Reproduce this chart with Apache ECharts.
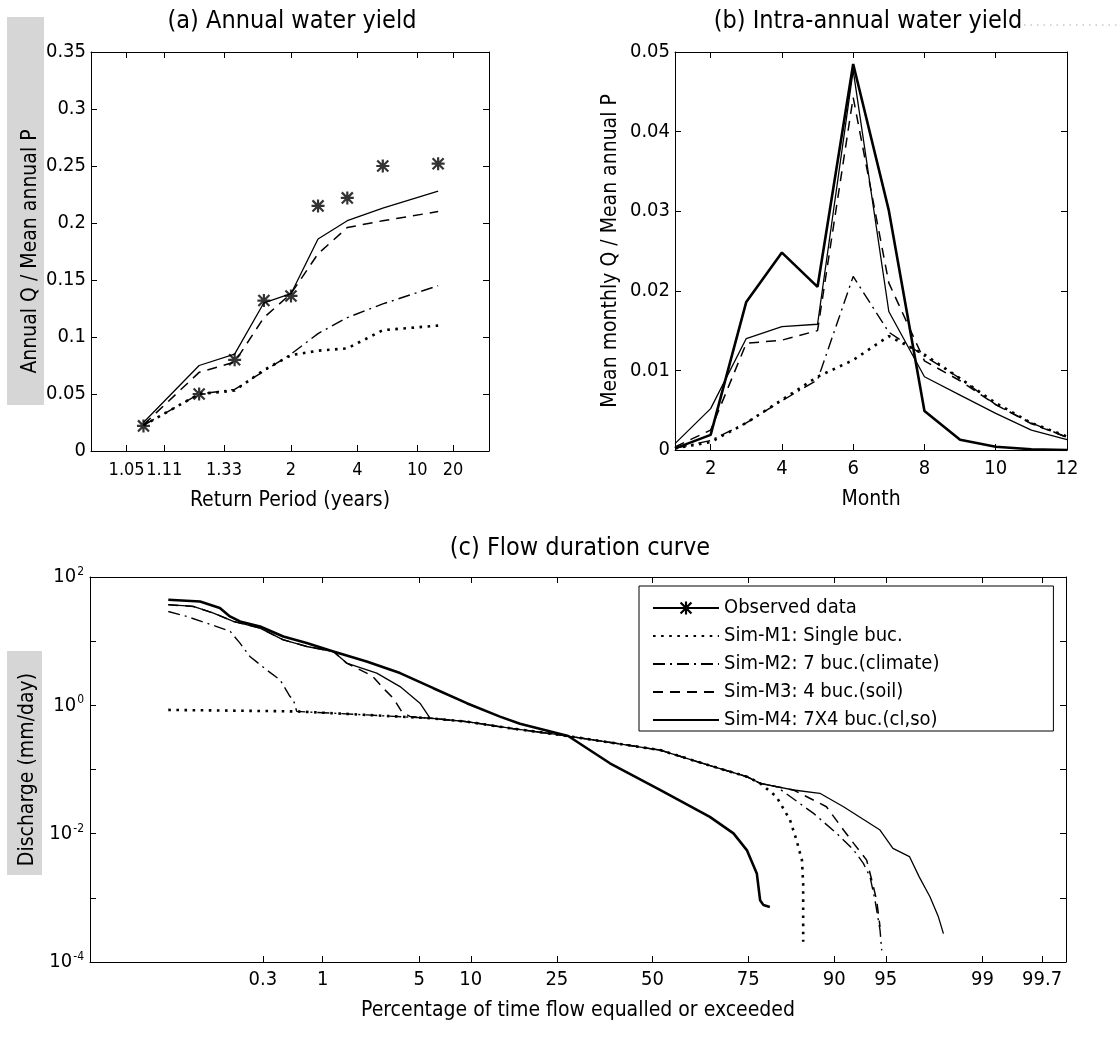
<!DOCTYPE html>
<html><head><meta charset="utf-8">
<script src="https://cdn.jsdelivr.net/npm/echarts@6/dist/echarts.min.js"></script>
<style>html,body{margin:0;padding:0;background:#fff}#c{width:1120px;height:1041px}</style>
</head><body><div id="c"></div>
<script>
// ---------------- DATA ----------------
const seriesNames = ['Observed data', 'Sim-M1: Single buc.', 'Sim-M2: 7 buc.(climate)', 'Sim-M3: 4 buc.(soil)', 'Sim-M4: 7X4 buc.(cl,so)'];

// (a) annual water yield vs return period (years)
const returnPeriods = [1.072, 1.213, 1.396, 1.644, 2.0, 2.552, 3.524, 5.691, 14.79];
const annualObserved = [0.022, 0.050, 0.080, 0.132, 0.136, 0.215, 0.222, 0.250, 0.252];
const annualM1 = [0.0225, 0.050, 0.053, 0.071, 0.084, 0.088, 0.090, 0.106, 0.110];
const annualM2 = [0.0225, 0.050, 0.054, 0.070, 0.085, 0.103, 0.117, 0.129, 0.145];
const annualM3 = [0.023, 0.069, 0.078, 0.117, 0.138, 0.173, 0.196, 0.202, 0.210];
const annualM4 = [0.025, 0.075, 0.085, 0.130, 0.138, 0.186, 0.202, 0.213, 0.228];
const returnTicks = [1.05, 1.11, 1.33, 2, 4, 10, 20];
const returnTickLabels = ['1.05', '1.11', '1.33', '2', '4', '10', '20'];

// (b) intra-annual water yield
const months = [1, 2, 3, 4, 5, 6, 7, 8, 9, 10, 11, 12];
const monthlyObserved = [0.0002, 0.0019, 0.0186, 0.0248, 0.0205, 0.0485, 0.0301, 0.0049, 0.0013, 0.0004, 0.0001, 0.0000];
const monthlyM1 = [0.0002, 0.0010, 0.0034, 0.0063, 0.0092, 0.0113, 0.0143, 0.0120, 0.0090, 0.0059, 0.0034, 0.0017];
const monthlyM2 = [0.0002, 0.0012, 0.0034, 0.0062, 0.0088, 0.0218, 0.0148, 0.0118, 0.0090, 0.0057, 0.0034, 0.0016];
const monthlyM3 = [0.0004, 0.0025, 0.0134, 0.0138, 0.0150, 0.0443, 0.0210, 0.0112, 0.0087, 0.0057, 0.0033, 0.0016];
const monthlyM4 = [0.0008, 0.0052, 0.0140, 0.0155, 0.0158, 0.0477, 0.0174, 0.0092, 0.0069, 0.0046, 0.0025, 0.0013];
const monthTicks = [2, 4, 6, 8, 10, 12];

// (c) flow duration curve: [percentage of time exceeded, discharge mm/day]
const fdcObserved = [[0.0319,44.2],[0.0709,41.6],[0.114,32.8],[0.144,24.3],[0.181,20.3],[0.282,16.9],[0.461,11.8],[0.736,9.33],[1.22,6.9],[2.19,4.82],[3.75,3.18],[6.11,1.85],[9.51,1.08],[14.1,0.667],[17.5,0.515],[27.6,0.333],[38.2,0.125],[52.1,0.0482],[65.7,0.0183],[71.6,0.0101],[74.7,0.00555],[76.9,0.0024],[77.6,0.00092],[78.3,0.00077],[79.6,0.00072]];
const fdcM1 = [[0.0319,0.849],[0.605,0.804],[2.19,0.709],[5.79,0.631],[9.5,0.557],[15.7,0.44],[25.7,0.346],[33.8,0.289],[52.1,0.201],[66.6,0.111],[74.7,0.0773],[77.6,0.061],[80.9,0.0377],[83.4,0.0163],[84.5,0.00794],[85.4,0.00387],[85.6,0.00167],[85.6,0.000505],[85.6,0.000206]];
const fdcM2 = [[0.0319,29.0],[0.051,24.3],[0.106,16.9],[0.145,14.2],[0.181,9.33],[0.226,5.77],[0.325,3.57],[0.431,2.49],[0.529,1.37],[0.566,1.22],[0.605,0.804],[2.19,0.709],[5.79,0.631],[9.5,0.557],[15.7,0.44],[25.7,0.346],[33.8,0.289],[52.1,0.201],[66.6,0.111],[74.7,0.0773],[77.6,0.061],[80.9,0.054],[87.2,0.0207],[90.3,0.0101],[92.2,0.00555],[93.15,0.00344],[93.75,0.00212],[94.17,0.00092],[94.57,0.000313],[94.7,0.000152]];
const fdcM3 = [[0.0319,37.0],[0.060,34.8],[0.098,27.4],[0.156,20.3],[0.282,16.0],[0.461,10.5],[0.736,8.26],[1.22,6.9],[1.55,4.55],[2.40,2.88],[2.96,1.74],[3.38,1.29],[3.86,0.79],[4.36,0.672],[5.79,0.631],[9.5,0.557],[15.7,0.44],[25.7,0.346],[33.8,0.289],[52.1,0.201],[66.6,0.111],[74.7,0.0773],[77.6,0.061],[80.9,0.054],[84.0,0.0479],[89.0,0.0263],[91.1,0.0114],[92.2,0.00705],[93.45,0.00387],[93.9,0.00189],[94.3,0.00092],[94.57,0.000352]];
const fdcM4 = [[0.0319,37.0],[0.060,34.8],[0.098,27.4],[0.156,20.3],[0.282,16.0],[0.461,10.5],[0.736,8.26],[1.22,6.9],[1.55,4.55],[2.59,3.18],[3.75,1.96],[5.05,1.08],[5.83,0.631],[9.5,0.557],[15.7,0.44],[25.7,0.346],[33.8,0.289],[52.1,0.201],[66.6,0.111],[74.7,0.0773],[77.6,0.061],[80.9,0.054],[84.0,0.0479],[88.1,0.0426],[91.1,0.0263],[94.57,0.0114],[95.5,0.0059],[96.5,0.0044],[97.0,0.00212],[97.48,0.00104],[97.81,0.000505],[97.99,0.000277]];
const pctTicks = [0.3, 1, 5, 10, 25, 50, 75, 90, 95, 99, 99.7];
const pctTickLabels = ['0.3', '1', '5', '10', '25', '50', '75', '90', '95', '99', '99.7'];

// ---------------- HELPERS ----------------
function normInv(p) {
  const a=[-3.969683028665376e+01,2.209460984245205e+02,-2.759285104469687e+02,1.383577518672690e+02,-3.066479806614716e+01,2.506628277459239e+00];
  const b=[-5.447609879822406e+01,1.615858368580409e+02,-1.556989798598866e+02,6.680131188771972e+01,-1.328068155288572e+01];
  const c=[-7.784894002430293e-03,-3.223964580411365e-01,-2.400758277161838e+00,-2.549732539343734e+00,4.374664141464968e+00,2.938163982698783e+00];
  const d=[7.784695709041462e-03,3.224671290700398e-01,2.445134137142996e+00,3.754408661907416e+00];
  const pl=0.02425, ph=1-pl; let q, r;
  if (p < pl) { q=Math.sqrt(-2*Math.log(p)); return (((((c[0]*q+c[1])*q+c[2])*q+c[3])*q+c[4])*q+c[5])/((((d[0]*q+d[1])*q+d[2])*q+d[3])*q+1); }
  if (p <= ph) { q=p-0.5; r=q*q; return (((((a[0]*r+a[1])*r+a[2])*r+a[3])*r+a[4])*r+a[5])*q/(((((b[0]*r+b[1])*r+b[2])*r+b[3])*r+b[4])*r+1); }
  q=Math.sqrt(-2*Math.log(1-p)); return -(((((c[0]*q+c[1])*q+c[2])*q+c[3])*q+c[4])*q+c[5])/((((d[0]*q+d[1])*q+d[2])*q+d[3])*q+1);
}
const rpToZ = T => normInv(1 - 1 / T);        // return period -> normal probability scale
const pctToZ = p => normInv(p / 100);         // exceedance % -> normal probability scale
function nearestLabel(v, vals, labels) {
  let bi = 0, bd = Infinity;
  vals.forEach((z, i) => { const dd = Math.abs(z - v); if (dd < bd) { bd = dd; bi = i; } });
  return labels[bi];
}

const FONT = '"DejaVu Sans Condensed", "DejaVu Sans", sans-serif';
const STAR = 'path://M8.3,0L11.7,0L11.7,20L8.3,20Z M0,8.3L20,8.3L20,11.7L0,11.7Z M0.3,2.7L2.7,0.3L19.7,17.3L17.3,19.7Z M17.3,0.3L19.7,2.7L2.7,19.7L0.3,17.3Z';
const styles = [
  { color: '#000', width: 2.6, type: 'solid' },
  { color: '#000', width: 2.6, type: [2.6, 5.5], cap: 'butt' },
  { color: '#000', width: 1.4, type: [12, 5, 2, 5] },
  { color: '#000', width: 1.5, type: [10, 7] },
  { color: '#000', width: 1.3, type: 'solid' }
];

const rpZ = returnTicks.map(rpToZ);
const pctZ = pctTicks.map(pctToZ);

function axis(o) {
  const base = {
    type: 'value', gridIndex: o.grid, position: o.pos, min: o.min, max: o.max,
    axisLine: { show: true, onZero: false, lineStyle: { color: '#000', width: 1 } },
    axisTick: { show: true, inside: true, length: 6, lineStyle: { color: '#000', width: 1 } },
    axisLabel: { show: !o.mirror, color: '#000', fontSize: o.labelSize || 20, fontFamily: FONT, margin: o.margin || 8, hideOverlap: false, showMinLabel: true, showMaxLabel: true },
    splitLine: { show: false }
  };
  if (o.interval != null) base.interval = o.interval;
  if (o.custom) { base.axisTick.customValues = o.custom; base.axisLabel.customValues = o.custom; }
  if (o.formatter) base.axisLabel.formatter = o.formatter;
  if (o.rich) base.axisLabel.rich = o.rich;
  if (o.name && !o.mirror) {
    base.name = o.name; base.nameLocation = 'middle'; base.nameGap = o.nameGap;
    base.nameTextStyle = { color: '#000', fontSize: 21, fontFamily: FONT };
  }
  return base;
}

const A_MIN = -2.03, A_MAX = 2.01, C_MIN = -3.967, C_MAX = 2.916;
const xAxes = [
  axis({ grid: 0, pos: 'bottom', min: A_MIN, max: A_MAX, custom: rpZ, formatter: v => nearestLabel(v, rpZ, returnTickLabels), name: 'Return Period (years)', nameGap: 39, margin: 10, labelSize: 18 }),
  axis({ grid: 0, pos: 'top', min: A_MIN, max: A_MAX, custom: rpZ, mirror: true }),
  axis({ grid: 1, pos: 'bottom', min: 1, max: 12, custom: monthTicks, name: 'Month', nameGap: 39, margin: 9 }),
  axis({ grid: 1, pos: 'top', min: 1, max: 12, custom: monthTicks, mirror: true }),
  axis({ grid: 2, pos: 'bottom', min: C_MIN, max: C_MAX, custom: pctZ, formatter: v => nearestLabel(v, pctZ, pctTickLabels), name: 'Percentage of time flow equalled or exceeded', nameGap: 38 }),
  axis({ grid: 2, pos: 'top', min: C_MIN, max: C_MAX, custom: pctZ, mirror: true })
];
const yAxes = [
  axis({ grid: 0, pos: 'left', min: 0, max: 0.35, interval: 0.05, name: 'Annual Q / Mean annual P', nameGap: 50, margin: 5 }),
  axis({ grid: 0, pos: 'right', min: 0, max: 0.35, interval: 0.05, mirror: true }),
  axis({ grid: 1, pos: 'left', min: 0, max: 0.05, interval: 0.01, name: 'Mean monthly Q / Mean annual P', nameGap: 54, margin: 5 }),
  axis({ grid: 1, pos: 'right', min: 0, max: 0.05, interval: 0.01, mirror: true }),
  axis({ grid: 2, pos: 'left', min: -4, max: 2, interval: 1, name: 'Discharge (mm/day)', nameGap: 51, margin: 6,
    formatter: v => (Math.round(v) % 2 === 0) ? '{b|10}{s|' + Math.round(v) + '}' : '',
    rich: { b: { fontSize: 20, fontFamily: FONT, color: '#000' }, s: { fontSize: 12, fontFamily: FONT, color: '#000', verticalAlign: 'top', padding: [0, 0, 10, 1] } } }),
  axis({ grid: 2, pos: 'right', min: -4, max: 2, interval: 1, mirror: true })
];

function lineSeries(name, xi, yi, data, st, extra) {
  return Object.assign({
    type: 'line', name, xAxisIndex: xi, yAxisIndex: yi, data,
    symbol: 'none', showSymbol: false, animation: false, silent: true,
    lineStyle: { color: st.color, width: st.width, type: st.type, cap: st.cap || 'butt' },
    itemStyle: { color: '#000' }
  }, extra || {});
}

const fdcSets = [fdcObserved, fdcM1, fdcM2, fdcM3, fdcM4];
const annualSets = [annualObserved, annualM1, annualM2, annualM3, annualM4];
const monthlySets = [monthlyObserved, monthlyM1, monthlyM2, monthlyM3, monthlyM4];

const series = [];
// (c) first so the legend takes its icons from these series
fdcSets.forEach((set, i) => {
  const data = set.map(d => [pctToZ(d[0]), Math.log10(d[1])]);
  const extra = i === 0 ? { symbol: STAR, symbolSize: 14, showSymbol: false, z: 5 } : {};
  series.push(lineSeries(seriesNames[i], 4, 4, data, styles[i], extra));
});
// (a)
series.push({
  type: 'scatter', name: seriesNames[0], xAxisIndex: 0, yAxisIndex: 0, symbol: STAR, symbolSize: 13,
  itemStyle: { color: '#000' }, silent: true, animation: false, z: 6,
  data: returnPeriods.map((T, k) => [rpToZ(T), annualObserved[k]])
});
for (let i = 1; i < 5; i++) {
  series.push(lineSeries(seriesNames[i], 0, 0, returnPeriods.map((T, k) => [rpToZ(T), annualSets[i][k]]), styles[i]));
}
// (b)
monthlySets.forEach((set, i) => {
  series.push(lineSeries(seriesNames[i], 2, 2, months.map((m, k) => [m, set[k]]), styles[i], i === 0 ? { z: 5 } : {}));
});

const titleStyle = { color: '#000', fontSize: 25, fontWeight: 'normal', fontFamily: FONT };
const option = {
  animation: false,
  backgroundColor: '#fff',
  title: [
    { text: '(a) Annual water yield', left: 292, top: 9, textAlign: 'center', textVerticalAlign: 'top', padding: 0, textStyle: titleStyle },
    { text: '(b) Intra-annual water yield', left: 868, top: 9, textAlign: 'center', textVerticalAlign: 'top', padding: 0, textStyle: titleStyle },
    { text: '(c) Flow duration curve', left: 580, top: 536, textAlign: 'center', textVerticalAlign: 'top', padding: 0, textStyle: titleStyle }
  ],
  grid: [
    { left: 91, top: 52, width: 398, height: 399, containLabel: false },
    { left: 675, top: 52, width: 392, height: 398, containLabel: false },
    { left: 90, top: 577, width: 976, height: 385, containLabel: false }
  ],
  xAxis: xAxes,
  yAxis: yAxes,
  legend: {
    orient: 'vertical', left: 639, top: 586, selectedMode: false,
    padding: [12, 114, 1, 13], itemWidth: 66, itemHeight: 16, itemGap: 8,
    backgroundColor: '#fff', borderColor: '#000', borderWidth: 1, borderRadius: 0,
    textStyle: { color: '#000', fontSize: 20, fontFamily: FONT },
    data: seriesNames.map((n, i) => i === 0 ? { name: n } : { name: n, itemStyle: { opacity: 0 } }),
    z: 10
  },
  graphic: [
    { type: 'rect', silent: true, z: 100, shape: { x: 7, y: 17, width: 37, height: 388 }, style: { fill: 'rgba(0,0,0,0.16)' } },
    { type: 'rect', silent: true, z: 100, shape: { x: 7, y: 651, width: 35, height: 224 }, style: { fill: 'rgba(0,0,0,0.16)' } },
    { type: 'line', silent: true, z: 100, shape: { x1: 1024, y1: 25, x2: 1118, y2: 25 }, style: { stroke: '#aaa', lineWidth: 1, lineDash: [1.5, 5] } }
  ],
  series
};
const chart = echarts.init(document.getElementById('c'), null, { renderer: 'canvas' });
chart.setOption(option);
</script>
</body></html>
